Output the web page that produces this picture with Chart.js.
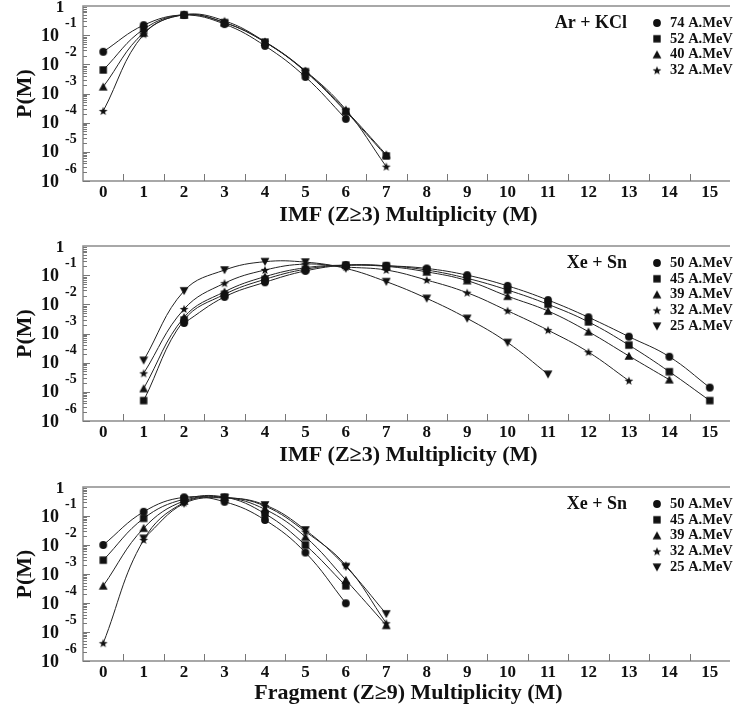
<!DOCTYPE html>
<html lang="en">
<head>
<meta charset="UTF-8">
<title>Multiplicity distributions</title>
<script src="https://cdn.jsdelivr.net/npm/chart.js"></script>
<style>
  body { margin: 0; background: #fff; }
  canvas { display: block; }
</style>
</head>
<body>
<canvas id="p1" width="735" height="230"></canvas>
<canvas id="p2" width="735" height="240"></canvas>
<canvas id="p3" width="735" height="244"></canvas>
<script>
// Ar + KCl, IMF multiplicity
var arM = [0, 1, 2, 3, 4, 5, 6, 7];
var ar74 = [2.7e-2, 0.22, 0.49, 0.24, 0.043, 3.7e-3, 1.35e-4, null];
var ar52 = [6.4e-3, 0.16, 0.50, 0.27, 0.058, 5.6e-3, 2.4e-4, 7.2e-6];
var ar40 = [1.7e-3, 0.12, 0.50, 0.27, 0.058, 5.8e-3, 2.6e-4, 8e-6];
var ar32 = [2.5e-4, 0.107, 0.50, 0.31, 0.060, 6.0e-3, 2.8e-4, 3.1e-6];

// Xe + Sn, IMF multiplicity
var xeImfM = [1, 2, 3, 4, 5, 6, 7, 8, 9, 10, 11, 12, 13, 14, 15];
var xeImf50 = [null, 2.3e-3, 0.018, 0.057, 0.14, 0.22, 0.21, 0.17, 0.10, 0.043, 0.014, 3.6e-3, 7.8e-4, 1.6e-4, 1.4e-5];
var xeImf45 = [5e-6, 2.9e-3, 0.022, 0.072, 0.16, 0.22, 0.21, 0.15, 0.078, 0.031, 0.010, 2.5e-3, 4e-4, 4.9e-5, 5e-6];
var xeImf39 = [1.3e-5, 3.6e-3, 0.027, 0.089, 0.18, 0.22, 0.20, 0.13, 0.065, 0.019, 5.9e-3, 1.15e-3, 1.7e-4, 2.6e-5, null];
var xeImf32 = [4.3e-5, 6.9e-3, 0.053, 0.15, 0.24, 0.19, 0.15, 0.068, 0.025, 6e-3, 1.3e-3, 2.3e-4, 2.4e-5, null, null];
var xeImf25 = [1.2e-4, 0.029, 0.15, 0.29, 0.28, 0.17, 0.06, 0.016, 3.3e-3, 4.9e-4, 4e-5, null, null, null, null];

// Xe + Sn, fragment multiplicity
var xeFrM = [0, 1, 2, 3, 4, 5, 6, 7];
var xeFr50 = [1e-2, 0.14, 0.44, 0.31, 0.073, 5.5e-3, 9.8e-5, null];
var xeFr45 = [3e-3, 0.083, 0.38, 0.45, 0.12, 0.010, 3.9e-4, null];
var xeFr39 = [3.9e-4, 0.038, 0.33, 0.44, 0.17, 0.019, 6.2e-4, 1.7e-5];
var xeFr32 = [4.1e-6, 0.015, 0.29, 0.43, 0.22, 0.029, 2e-3, 2e-5];
var xeFr25 = [null, 0.017, 0.27, 0.42, 0.24, 0.033, 1.8e-3, 4.2e-5];

var xTickLabels = [0, 1, 2, 3, 4, 5, 6, 7, 8, 9, 10, 11, 12, 13, 14, 15];
var yExponents = [-1, -2, -3, -4, -5, -6];

var FONT = '"Liberation Serif", "Times New Roman", serif';
var INK = '#111';

function marker(shape) {
  var c = document.createElement('canvas');
  c.width = 10; c.height = 10;
  var g = c.getContext('2d');
  g.fillStyle = INK;
  g.beginPath();
  if (shape == 'circle') {
    g.arc(5, 5, 3.9, 0, 2 * Math.PI);
  } else if (shape == 'square') {
    g.rect(1.3, 1.3, 7.4, 7.4);
  } else if (shape == 'up') {
    g.moveTo(5, 0.8); g.lineTo(9.4, 8.8); g.lineTo(0.6, 8.8);
  } else if (shape == 'down') {
    g.moveTo(5, 9.2); g.lineTo(9.4, 1.2); g.lineTo(0.6, 1.2);
  } else {
    for (var i = 0; i < 10; i++) {
      var r = i % 2 ? 1.9 : 4.6;
      var a = -Math.PI / 2 + i * Math.PI / 5;
      g.lineTo(5 + r * Math.cos(a), 5.4 + r * Math.sin(a));
    }
  }
  g.closePath();
  g.fill();
  return c;
}

var marks = {};
['circle', 'square', 'up', 'star', 'down'].forEach(function(s) { marks[s] = marker(s); });

function paperAxes(cfg) {
  return {
    id: 'paperAxes',
    afterDraw: function(chart) {
      var ctx = chart.ctx, a = chart.chartArea;
      var xs = chart.scales.x, ys = chart.scales.y;
      ctx.save();
      // frame
      ctx.strokeStyle = '#8c8c8c';
      ctx.lineWidth = 1.5;
      ctx.beginPath();
      ctx.moveTo(a.right, a.top); ctx.lineTo(a.left, a.top);
      ctx.lineTo(a.left, a.bottom); ctx.lineTo(a.right, a.bottom);
      ctx.stroke();
      // ticks
      ctx.lineWidth = 1;
      ctx.strokeStyle = '#777';
      ctx.beginPath();
      for (var v = 0.5; v < 15.5; v++) {
        var px = Math.round(xs.getPixelForValue(v)) + 0.5;
        ctx.moveTo(px, a.bottom); ctx.lineTo(px, a.bottom - 7);
      }
      for (var e = -6; e < 0; e++) {
        for (var m = 1; m < 10; m++) {
          var py = Math.round(ys.getPixelForValue(m * Math.pow(10, e))) + 0.5;
          ctx.moveTo(a.left, py); ctx.lineTo(a.left + (m == 1 ? 7 : 4), py);
        }
      }
      ctx.stroke();

      ctx.fillStyle = INK;
      // x tick labels
      ctx.font = 'bold 17px ' + FONT;
      ctx.textAlign = 'center';
      ctx.textBaseline = 'middle';
      xTickLabels.forEach(function(t) {
        ctx.fillText(String(t), xs.getPixelForValue(t), a.bottom + 12);
      });
      // x title
      ctx.font = 'bold 22px ' + FONT;
      ctx.fillText(cfg.xTitle, (a.left + a.right) / 2 + 2, a.bottom + cfg.titleGap);

      // y tick labels
      ctx.font = 'bold 17px ' + FONT;
      ctx.fillText('1', 60, ys.getPixelForValue(1) + 2);
      yExponents.forEach(function(k) {
        var py = ys.getPixelForValue(Math.pow(10, k));
        ctx.font = 'bold 18px ' + FONT;
        ctx.textAlign = 'right';
        ctx.fillText('10', 59, py + 1);
        ctx.font = 'bold 14px ' + FONT;
        ctx.textAlign = 'left';
        ctx.fillText(String(k), 65, py - 12);
      });

      // y title
      ctx.save();
      ctx.translate(25, (a.top + a.bottom) / 2);
      ctx.rotate(-Math.PI / 2);
      ctx.textAlign = 'center';
      ctx.font = 'bold 22px ' + FONT;
      ctx.fillText('P(M)', 0, 0);
      ctx.restore();

      // legend
      var y0 = a.top + 17;
      ctx.textAlign = 'right';
      ctx.font = 'bold 18px ' + FONT;
      ctx.fillText(cfg.system, 627, y0);
      ctx.textAlign = 'left';
      ctx.font = 'bold 14.5px ' + FONT;
      chart.data.datasets.forEach(function(ds, i) {
        var ly = y0 + i * 15.8;
        ctx.drawImage(marks[ds.shape], 652, ly - 5);
        ctx.fillText(ds.label, 670, ly);
      });
      ctx.restore();
    }
  };
}

function makeChart(id, M, series, cfg) {
  var datasets = series.map(function(s) {
    var pts = [];
    M.forEach(function(m, i) { if (s.values[i] != null) pts.push({ x: m, y: s.values[i] }); });
    return {
      label: s.label,
      shape: s.shape,
      data: pts,
      borderColor: '#222',
      borderWidth: 1,
      tension: 0.4,
      pointStyle: marks[s.shape],
      pointRadius: 4,
      fill: false
    };
  });
  return new Chart(document.getElementById(id), {
    type: 'line',
    data: { datasets: datasets },
    options: {
      responsive: false,
      animation: false,
      devicePixelRatio: 1,
      layout: { padding: { top: cfg.top, left: 0, right: 0, bottom: 0 } },
      plugins: { legend: { display: false }, tooltip: { enabled: false } },
      scales: {
        x: {
          type: 'linear', min: -0.5, max: 15.5,
          grid: { display: false }, border: { display: false }, ticks: { display: false },
          afterFit: function(s) { s.height = cfg.xh; }
        },
        y: {
          type: 'logarithmic', min: 1e-6, max: 1,
          grid: { display: false }, border: { display: false }, ticks: { display: false },
          afterFit: function(s) { s.width = 83; }
        }
      }
    },
    plugins: [paperAxes(cfg)]
  });
}

makeChart('p1', arM, [
  { label: '74 A.MeV', shape: 'circle', values: ar74 },
  { label: '52 A.MeV', shape: 'square', values: ar52 },
  { label: '40 A.MeV', shape: 'up', values: ar40 },
  { label: '32 A.MeV', shape: 'star', values: ar32 }
], { top: 6, xh: 49, titleGap: 34, system: 'Ar + KCl', xTitle: 'IMF (Z\u22653) Multiplicity (M)' });

makeChart('p2', xeImfM, [
  { label: '50 A.MeV', shape: 'circle', values: xeImf50 },
  { label: '45 A.MeV', shape: 'square', values: xeImf45 },
  { label: '39 A.MeV', shape: 'up', values: xeImf39 },
  { label: '32 A.MeV', shape: 'star', values: xeImf32 },
  { label: '25 A.MeV', shape: 'down', values: xeImf25 }
], { top: 16, xh: 49, titleGap: 34, system: 'Xe + Sn', xTitle: 'IMF (Z\u22653) Multiplicity (M)' });

makeChart('p3', xeFrM, [
  { label: '50 A.MeV', shape: 'circle', values: xeFr50 },
  { label: '45 A.MeV', shape: 'square', values: xeFr45 },
  { label: '39 A.MeV', shape: 'up', values: xeFr39 },
  { label: '32 A.MeV', shape: 'star', values: xeFr32 },
  { label: '25 A.MeV', shape: 'down', values: xeFr25 }
], { top: 17, xh: 53, titleGap: 32, system: 'Xe + Sn', xTitle: 'Fragment (Z\u22659) Multiplicity (M)' });
</script>
</body>
</html>
